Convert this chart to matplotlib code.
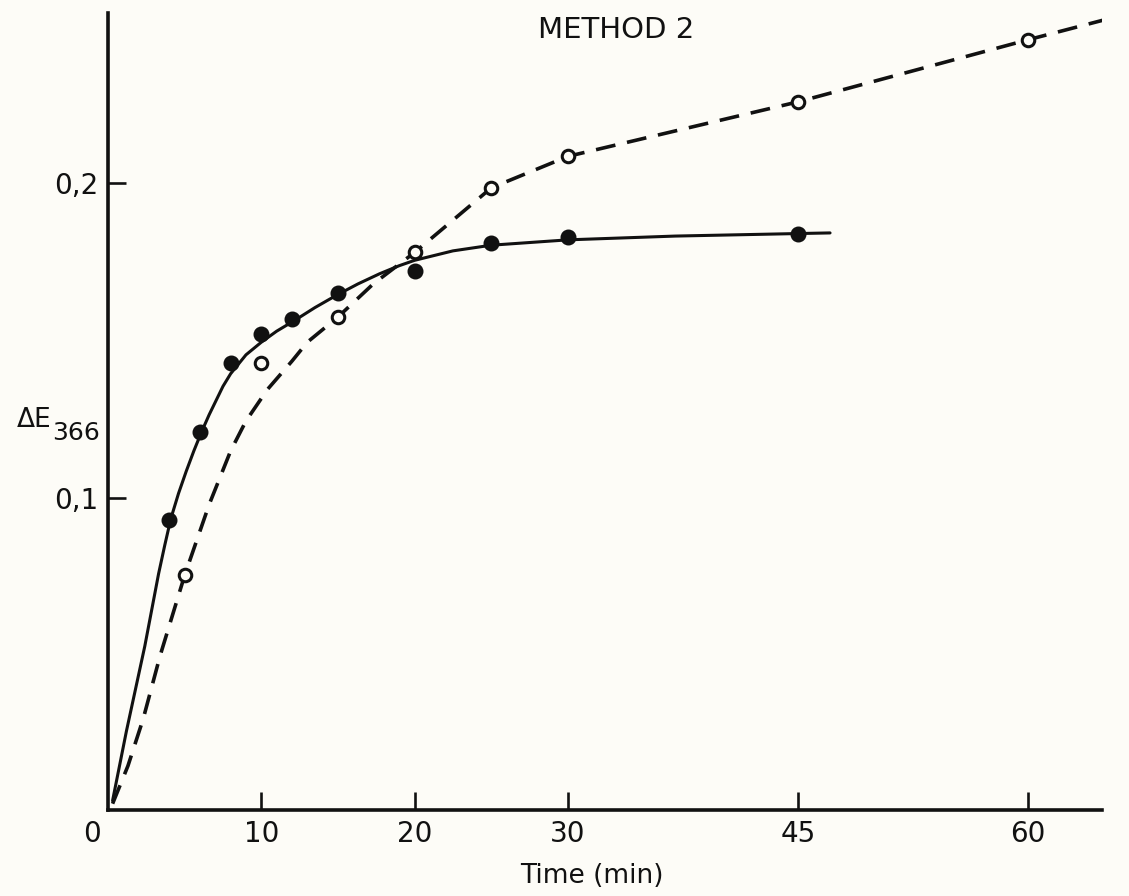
import matplotlib
matplotlib.use("Agg")
import matplotlib.pyplot as plt

# ---- data ----
filled_t = [4, 6, 8, 10, 12, 15, 20, 25, 30, 45]
filled_v = [0.093, 0.121, 0.143, 0.152, 0.157, 0.165, 0.172, 0.181, 0.183, 0.184]

open_t = [5, 10, 15, 20, 25, 30, 45, 60]
open_v = [0.0755, 0.143, 0.1575, 0.178, 0.1985, 0.2085, 0.2258, 0.2455]

# hand-drawn curves
solid_curve_t = [0.3, 1.2, 2.4, 3.3, 3.7, 4.1, 4.6, 5.1, 5.6, 6.1, 6.6, 7.0, 7.5,
                 8.0, 9.0, 10.0, 11.0, 12.2, 13.5, 14.9, 16.3, 17.7, 19.0, 20.0,
                 22.5, 25.0, 30.0, 37.0, 45.0, 47.1]
solid_curve_v = [0.004, 0.026, 0.053, 0.076, 0.085, 0.0935, 0.1015, 0.1085, 0.115,
                 0.121, 0.1265, 0.1305, 0.1355, 0.1395, 0.1455, 0.1495, 0.153,
                 0.1565, 0.1605, 0.1644, 0.168, 0.1712, 0.1738, 0.1755, 0.1785,
                 0.1803, 0.182, 0.1832, 0.184, 0.1842]

dashed_curve_t = [0.3, 1.3, 2.3, 3.4, 5.0, 6.6, 8.0, 9.0, 10.4, 12.0, 13.0, 15.0,
                  17.3, 20.0, 25.0, 30.0, 45.0, 60.0, 66.3]
dashed_curve_v = [0.003, 0.015, 0.030, 0.050, 0.0755, 0.098, 0.115, 0.1245, 0.1345,
                  0.1435, 0.1495, 0.1575, 0.168, 0.178, 0.1985, 0.2085, 0.2258,
                  0.2455, 0.2535]

x_ticks = [10, 20, 30, 45, 60]
x_tick_labels = ["10", "20", "30", "45", "60"]
y_ticks = [0.1, 0.2]
y_tick_labels = ["0,1", "0,2"]

# ---- figure ----
W, H = 1129, 896
bg = "#fdfcf7"
ink = "#111111"
fig = plt.figure(figsize=(W / 100, H / 100), dpi=100, facecolor=bg)
ax = fig.add_axes([108 / W, 86 / H, (1102 - 108) / W, (810 - 13) / H])
ax.set_facecolor(bg)

ax.set_xlim(0, 994 / 15.33)
ax.set_ylim(0.001, 0.001 + 797 / 3150)

ax.plot(solid_curve_t, solid_curve_v, color=ink, lw=2.2, solid_capstyle="round",
        solid_joinstyle="round", zorder=2)
ax.plot(dashed_curve_t, dashed_curve_v, color=ink, lw=2.6, linestyle=(0, (5.5, 3.3)), zorder=2)

ax.plot(open_t, open_v, linestyle="none", marker="o", ms=9, mfc=bg, mec=ink, mew=2.2, zorder=3)
ax.plot(filled_t, filled_v, linestyle="none", marker="o", ms=10, mfc=ink, mec=ink, mew=1.5, zorder=4)

for s in ["top", "right"]:
    ax.spines[s].set_visible(False)
for s in ["left", "bottom"]:
    ax.spines[s].set_linewidth(2.6)
    ax.spines[s].set_color(ink)

ax.set_xticks(x_ticks)
ax.set_xticklabels(x_tick_labels)
ax.set_yticks(y_ticks)
ax.set_yticklabels(y_tick_labels)
ax.tick_params(axis="x", direction="in", length=13, width=1.9, colors=ink, labelsize=20, pad=7)
ax.tick_params(axis="y", direction="in", length=13, width=1.9, colors=ink, labelsize=20, pad=7)

ax.annotate("0", xy=(0, 0), xycoords="axes fraction", xytext=(-11.5, -7),
            textcoords="offset points", ha="center", va="top", fontsize=20, color=ink)

fig.text(616 / W, 1 - 30 / H, "METHOD 2", ha="center", va="center", fontsize=21, color=ink)
fig.text(592 / W, 1 - 876 / H, "Time (min)", ha="center", va="center", fontsize=19, color=ink)
fig.text(51 / W, 1 - 427 / H, "ΔE", ha="right", va="baseline", fontsize=19, color=ink)
fig.text(52 / W, 1 - 440 / H, "366", ha="left", va="baseline", fontsize=18, color=ink)

fig.savefig("out.png", dpi=100, facecolor=bg)
